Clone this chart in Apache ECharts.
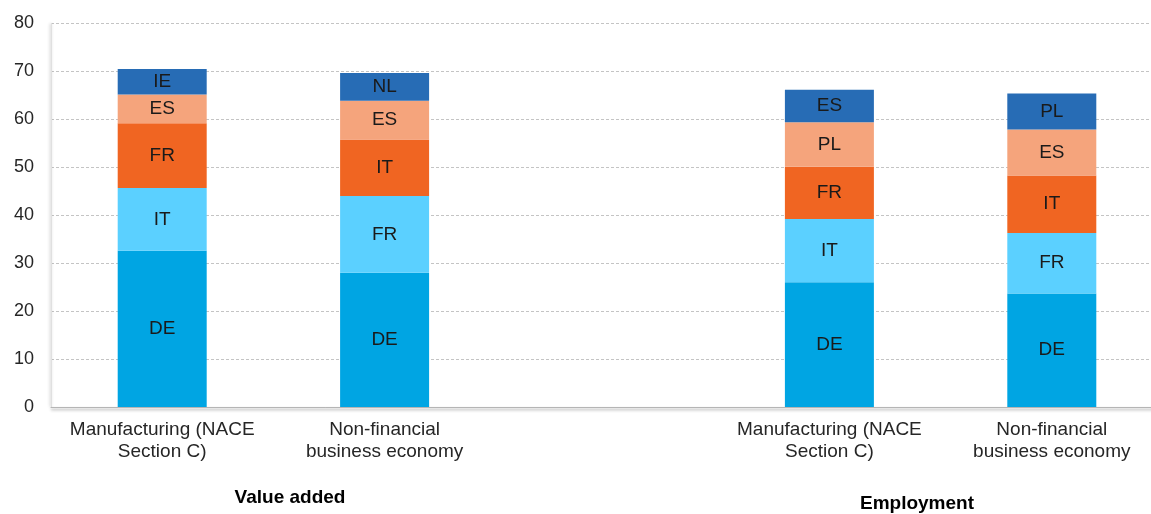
<!DOCTYPE html>
<html>
<head>
<meta charset="utf-8">
<script src="https://cdn.jsdelivr.net/npm/echarts@6/dist/echarts.min.js"></script>
<style>
  html, body { margin: 0; padding: 0; background: #ffffff; }
  #chart { width: 1151px; height: 514px; }
</style>
</head>
<body>
<div id="chart"></div>
<script>
// Sector categories; the empty middle slot separates the two groups
const categories = [
  'Manufacturing (NACE\nSection C)',
  'Non-financial\nbusiness economy',
  '',
  'Manufacturing (NACE\nSection C)',
  'Non-financial\nbusiness economy'
];

// Share (%) held by the five largest countries, stacked from largest (bottom) to fifth (top)
const rank1Values = [32.6, 28.0, null, 26.0, 23.7];
const rank2Values = [13.1, 16.0, null, 13.2, 12.6];
const rank3Values = [13.5, 11.8, null, 10.9, 12.0];
const rank4Values = [6.0, 8.1, null, 9.3, 9.6];
const rank5Values = [5.3, 5.8, null, 6.8, 7.5];

// Country shown in each stacked segment
const rank1Codes = ['DE', 'DE', '', 'DE', 'DE'];
const rank2Codes = ['IT', 'FR', '', 'IT', 'FR'];
const rank3Codes = ['FR', 'IT', '', 'FR', 'IT'];
const rank4Codes = ['ES', 'ES', '', 'PL', 'ES'];
const rank5Codes = ['IE', 'NL', '', 'ES', 'PL'];

const yTicks = { min: 0, max: 80, interval: 10 };
const groupTitles = ['Value added', 'Employment'];

const FONT = '"Liberation Sans", Arial, sans-serif';
const colors = ['#00A5E3', '#5BD0FF', '#F06522', '#F5A47C', '#276CB5'];

const layers = [
  [rank1Values, rank1Codes],
  [rank2Values, rank2Codes],
  [rank3Values, rank3Codes],
  [rank4Values, rank4Codes],
  [rank5Values, rank5Codes]
];

const series = layers.map(([vals, codes], i) => ({
  name: 'rank' + (i + 1),
  type: 'bar',
  stack: 'top5',
  barWidth: 89,
  itemStyle: { color: colors[i] },
  label: {
    show: true,
    position: 'inside',
    fontFamily: FONT,
    fontSize: 19,
    color: '#1a1a1a',
    formatter: p => codes[p.dataIndex]
  },
  data: vals
}));

const chart = echarts.init(document.getElementById('chart'), null, { renderer: 'canvas' });
chart.setOption({
  animation: false,
  backgroundColor: '#ffffff',
  // plot area runs a little past the right edge of the canvas
  grid: { left: 51, width: 1112, top: 23.5, height: 383.5, containLabel: false, outerBoundsMode: 'none' },
  xAxis: {
    type: 'category',
    data: categories,
    axisTick: { show: false },
    axisLine: {
      show: true,
      lineStyle: { color: '#b5b5b5', width: 1, shadowColor: 'rgba(0,0,0,0.45)', shadowBlur: 3, shadowOffsetY: 2 }
    },
    axisLabel: {
      interval: 0,
      fontFamily: FONT,
      fontSize: 19,
      color: '#262626',
      lineHeight: 22,
      margin: 12
    }
  },
  yAxis: {
    type: 'value',
    min: yTicks.min,
    max: yTicks.max,
    interval: yTicks.interval,
    axisLine: {
      show: true,
      lineStyle: { color: '#e0e0e0', width: 1, shadowColor: 'rgba(0,0,0,0.3)', shadowBlur: 3, shadowOffsetX: -1 }
    },
    axisTick: { show: false },
    splitLine: { lineStyle: { color: '#c4c4c4', type: [3, 2], width: 1 } },
    axisLabel: { fontFamily: FONT, fontSize: 18, color: '#262626', margin: 17 }
  },
  series: series,
  graphic: [
    { type: 'text', x: 290, y: 498, style: { text: groupTitles[0], font: 'bold 19px ' + FONT, fill: '#000', align: 'center', verticalAlign: 'middle' } },
    { type: 'text', x: 917, y: 504, style: { text: groupTitles[1], font: 'bold 19px ' + FONT, fill: '#000', align: 'center', verticalAlign: 'middle' } }
  ]
});
</script>
</body>
</html>
